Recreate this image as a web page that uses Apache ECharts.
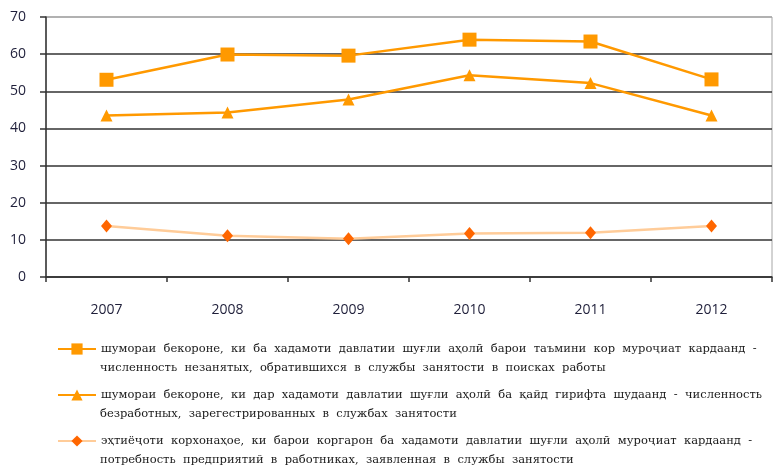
<!DOCTYPE html>
<html><head><meta charset="utf-8">
<script src="https://cdn.jsdelivr.net/npm/echarts@6/dist/echarts.min.js"></script>
<style>html,body{margin:0;padding:0;background:#fff}#c{width:774px;height:467px}</style>
</head><body><div id="c"></div>
<script>
const years = ['2007','2008','2009','2010','2011','2012'];
const unemployedApplied = [53.1, 59.9, 59.6, 63.9, 63.4, 53.2];
const unemployedRegistered = [43.5, 44.3, 47.8, 54.3, 52.2, 43.5];
const vacancies = [13.7, 11.1, 10.3, 11.7, 11.9, 13.7];
const yTicks = [0, 10, 20, 30, 40, 50, 60, 70];
const seriesNames = [
  'шумораи бекороне, ки ба хадамоти давлатии шуғли аҳолӣ барои таъмини кор муроҷиат кардаанд - численность незанятых, обратившихся в службы занятости в поисках работы',
  'шумораи бекороне, ки дар хадамоти давлатии шуғли аҳолӣ ба қайд гирифта шудаанд - численность безработных, зарегестрированных в службах занятости',
  'эҳтиёҷоти корхонаҳое, ки барои коргарон ба хадамоти давлатии шуғли аҳолӣ муроҷиат кардаанд - потребность предприятий в работниках, заявленная в службы занятости'
];
const legendLines = [
  ['шумораи  бекороне,  ки  ба  хадамоти  давлатии  шуғли  аҳолӣ  барои  таъмини  кор  муроҷиат  кардаанд  -', 'численность  незанятых,  обратившихся  в  службы  занятости  в  поисках  работы'],
  ['шумораи  бекороне,  ки  дар  хадамоти  давлатии  шуғли  аҳолӣ  ба  қайд  гирифта  шудаанд  -  численность', 'безработных,  зарегестрированных  в  службах  занятости'],
  ['эҳтиёҷоти  корхонаҳое,  ки  барои  коргарон  ба  хадамоти  давлатии  шуғли  аҳолӣ  муроҷиат  кардаанд  -', 'потребность  предприятий  в  работниках,  заявленная  в  службы  занятости']
];
const legendFont = {fontFamily: 'DejaVu Serif', fontSize: 11.5, color: '#1a1a1a'};
const legendTops = [342, 388, 434];
const chart = echarts.init(document.getElementById('c'), null, {renderer: 'canvas'});
chart.setOption({
  animation: false,
  grid: {left: 46, right: 2, top: 17, bottom: 190, show: true, borderColor: '#a6a6a6', borderWidth: 1, containLabel: false},
  xAxis: {
    type: 'category', data: years, boundaryGap: true,
    axisLine: {lineStyle: {color: '#333', width: 1.5}},
    axisTick: {show: true, interval: 0, length: 5, lineStyle: {color: '#333', width: 1.5}},
    axisLabel: {margin: 26, color: '#1f1f3a', fontFamily: 'Open Sans', fontSize: 14}
  },
  yAxis: {
    type: 'value', min: yTicks[0], max: yTicks[yTicks.length - 1], interval: 10,
    axisLine: {show: true, lineStyle: {color: '#333', width: 1.5}},
    axisTick: {show: true, length: 6, lineStyle: {color: '#333', width: 1.5}},
    axisLabel: {margin: 20, color: '#1f1f3a', fontFamily: 'Open Sans', fontSize: 14},
    splitLine: {show: true, lineStyle: {color: ['#333','#333','#333','#333','#333','#333','#333','#a6a6a6'], width: 1.5}}
  },
  legend: seriesNames.map(function (n, i) {
    return {
      orient: 'vertical', left: 57, top: legendTops[i], padding: 0, itemWidth: 38, itemHeight: 14,
      data: [n],
      formatter: function () { return legendLines[i][0]; },
      textStyle: Object.assign({lineHeight: 14}, legendFont)
    };
  }),
  graphic: legendLines.map(function (l, i) {
    return {type: 'text', left: 100, top: legendTops[i] + 7 + 19 - 7,
      style: Object.assign({text: l[1], fill: legendFont.color, font: legendFont.fontSize + 'px "DejaVu Serif"', lineHeight: 14})};
  }),
  series: [
    {name: seriesNames[0], type: 'line', data: unemployedApplied, symbol: 'rect', symbolSize: 14,
     lineStyle: {color: '#ff9900', width: 2.5}, itemStyle: {color: '#ff9900'}},
    {name: seriesNames[1], type: 'line', data: unemployedRegistered, symbol: 'triangle', symbolSize: 12,
     lineStyle: {color: '#ff9900', width: 2.5}, itemStyle: {color: '#ff9900'}},
    {name: seriesNames[2], type: 'line', data: vacancies, symbol: 'diamond', symbolSize: [11, 13],
     lineStyle: {color: '#ffcc99', width: 2.5}, itemStyle: {color: '#ff6600'}}
  ]
});
</script></body></html>
